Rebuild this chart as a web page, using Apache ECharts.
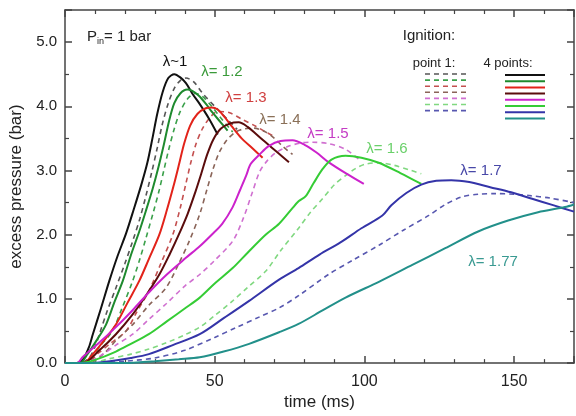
<!DOCTYPE html>
<html><head><meta charset="utf-8">
<script src="https://cdn.jsdelivr.net/npm/echarts@6/dist/echarts.min.js"></script>
<style>html,body{margin:0;padding:0;background:#fff}#c{width:576px;height:416px}</style>
</head><body><div id="c"></div>
<script>
// ---- data (time ms, excess pressure bar) ----
const xTicks = [0, 50, 100, 150];
const yTicks = [0.0, 1.0, 2.0, 3.0, 4.0, 5.0];
const lambdaLabels = ['λ~1', 'λ= 1.2', 'λ= 1.3', 'λ= 1.4', 'λ= 1.5', 'λ= 1.6', 'λ= 1.7', 'λ= 1.77'];

const l10_4pt = [[0,0],[4,0],[6,0.06],[8,0.25],[9.3,0.45],[12,0.85],[14.8,1.28],[17.5,1.66],[20.4,2.02],[23,2.4],[25.5,2.78],[27.5,3.12],[29.2,3.5],[30.8,3.88],[32.6,4.22],[34.5,4.44],[36.5,4.5],[38.5,4.45],[40.4,4.36],[42.5,4.2],[44.8,4.05],[48.2,3.8],[51,3.56]];
const l10_p1 = [[0,0],[5,0],[8,0.08],[10,0.25],[11.5,0.45],[14,0.8],[17,1.17],[20,1.55],[22.6,1.9],[25,2.25],[27,2.6],[29,2.98],[30.8,3.35],[32.5,3.72],[34.5,4.05],[36.5,4.28],[38.5,4.4],[40.4,4.44],[43,4.38],[46,4.2],[50.4,3.98],[54.8,3.77],[57.5,3.64]];
const l12_4pt = [[0,0],[5,0],[7.5,0.14],[10.5,0.35],[13.7,0.6],[16.5,0.95],[19.3,1.28],[22,1.68],[24.8,2.05],[27,2.37],[29.3,2.72],[31.2,3.05],[33,3.4],[34.8,3.78],[36.5,4.05],[38.5,4.2],[40.8,4.26],[42.5,4.24],[44.8,4.16],[47,4.04],[49.3,3.9],[52,3.75],[54.3,3.62]];
const l12_p1 = [[0,0],[6,0],[9,0.1],[12,0.28],[15.8,0.5],[19,0.85],[22.6,1.28],[25,1.62],[27,1.94],[29.5,2.35],[31.5,2.7],[33,3.0],[34.5,3.3],[36.5,3.65],[38.5,3.92],[41,4.12],[43.5,4.2],[46,4.15],[49,4.0],[52,3.82],[56,3.6]];
const l13_4pt = [[0,0],[6,0],[9.3,0.14],[13,0.35],[17,0.6],[21,0.95],[24.8,1.28],[28,1.62],[31.5,2.0],[34,2.38],[36.2,2.75],[38,3.08],[39.8,3.42],[41.8,3.7],[44.2,3.88],[47,3.97],[49,3.98],[51,3.95],[53,3.85],[56,3.67],[59,3.5],[62.5,3.35],[66,3.2]];
const l13_p1 = [[0,0],[7,0],[11,0.15],[15,0.3],[20.4,0.5],[24,0.8],[28,1.12],[32,1.55],[36,2.0],[38.5,2.42],[40.4,2.8],[42,3.12],[43.8,3.42],[46,3.66],[48.5,3.83],[51,3.92],[55,3.9],[59,3.8],[63.7,3.69],[67,3.6],[70.4,3.52]];
const l14_4pt = [[0,0],[6,0],[11.5,0.2],[17,0.45],[22.6,0.76],[27,1.05],[31.5,1.38],[35,1.7],[38,2.0],[41,2.33],[43.5,2.66],[45.5,2.95],[47.5,3.25],[49.5,3.48],[52,3.65],[55,3.73],[58,3.75],[61,3.68],[64,3.56],[67,3.44],[71,3.28],[74.8,3.13]];
const l14_p1 = [[0,0],[8,0],[13,0.15],[17,0.35],[22.6,0.6],[28,0.9],[33.7,1.17],[38,1.55],[41.5,1.9],[45,2.32],[47.5,2.72],[49.5,3.03],[51.5,3.28],[54,3.47],[57,3.6],[60,3.65],[63,3.66],[67,3.6],[70,3.5],[72.6,3.38],[76,3.25]];
const l15_4pt = [[0,0],[4,0],[6,0.1],[11,0.3],[17,0.56],[22.5,0.82],[28,1.1],[34,1.38],[40.4,1.64],[45,1.82],[49,2.0],[52.5,2.17],[56,2.43],[58.5,2.7],[60.5,2.92],[62,3.1],[65,3.25],[68,3.38],[72,3.46],[76,3.47],[80,3.4],[84,3.28],[88,3.13],[94,2.95],[99.8,2.79]];
const l15_p1 = [[0,0],[6,0],[12,0.12],[17,0.28],[22.6,0.45],[28,0.68],[33.7,0.92],[40,1.2],[45,1.38],[50,1.6],[56,1.9],[59.5,2.25],[62.5,2.65],[65,2.98],[67.5,3.15],[70.5,3.28],[74.8,3.38],[79,3.43],[82.6,3.44],[88,3.42],[93.7,3.33],[98,3.18]];
const l16_4pt = [[0,0],[5,0],[10,0.05],[17,0.18],[22,0.3],[28,0.45],[34,0.65],[40,0.85],[45,1.02],[50,1.24],[56,1.48],[61,1.72],[67,2.0],[71.5,2.17],[75.9,2.41],[78,2.52],[80.4,2.6],[83,2.8],[86,3.02],[89,3.17],[93.7,3.23],[99,3.2],[104.8,3.12],[112,2.96],[119,2.79]];
const l16_p1 = [[0,0],[8,0],[15,0.07],[22,0.14],[28,0.22],[34,0.32],[40,0.44],[45,0.56],[50,0.74],[56,0.97],[61,1.18],[67,1.43],[72,1.75],[78,2.1],[82,2.35],[86,2.56],[90,2.78],[93.7,2.92],[97,3.03],[100.4,3.1],[105,3.12],[110,3.08],[115,3.01],[119,2.95]];
const l17_4pt = [[0,0],[8,0],[15,0.03],[22,0.08],[28,0.14],[36,0.28],[45,0.45],[53,0.7],[61.5,0.97],[71.5,1.3],[78,1.48],[85,1.69],[92,1.88],[99,2.1],[106,2.3],[109,2.46],[114,2.65],[119,2.78],[124,2.84],[129,2.85],[135,2.82],[142,2.74],[149,2.66],[156,2.56],[163,2.46],[170,2.36]];
const l17_p1 = [[0,0],[10,0],[20,0.03],[30,0.08],[40,0.2],[50,0.4],[57,0.55],[65,0.72],[71.5,0.86],[78,1.05],[88,1.38],[96,1.6],[105,1.84],[113,2.07],[121.5,2.3],[127,2.47],[132.6,2.59],[138,2.63],[143.7,2.64],[150,2.63],[155,2.61],[162,2.57],[170,2.5]];
const l177_4pt = [[0,0],[20,0],[30,0.03],[38,0.06],[45,0.09],[53,0.18],[61.5,0.3],[71.5,0.48],[78,0.61],[86,0.82],[93.7,1.02],[105,1.27],[116,1.53],[127,1.79],[138,2.05],[148,2.22],[158,2.35],[167,2.43],[170,2.47]];

// ---- styles ----
const solidColors = ['#111111','#1e8a2e','#e2231a','#5a0c0c','#cc22cc','#35cc35','#3434a8','#22908a'];
const dashColors  = ['#555555','#3aa04a','#c45050','#8a6458','#d070d0','#80d880','#5858b0'];
const labelColors = ['#111111','#3a9a3a','#d04040','#8a7058','#c43cc4','#6ad06a','#4848a8','#3a9a92'];
const solidData = [l10_4pt,l12_4pt,l13_4pt,l14_4pt,l15_4pt,l16_4pt,l17_4pt,l177_4pt];
const dashData  = [l10_p1,l12_p1,l13_p1,l14_p1,l15_p1,l16_p1,l17_p1];

const series = [];
dashData.forEach((d,i)=>series.push({type:'line',data:d,showSymbol:false,smooth:0.3,z:2,
  lineStyle:{color:dashColors[i],width:1.6,type:[5,4]}}));
solidData.forEach((d,i)=>series.push({type:'line',data:d,showSymbol:false,smooth:0.3,z:3,
  lineStyle:{color:solidColors[i],width:2}}));

const font = 'Liberation Sans, Arial, sans-serif';
const labelPos = [[175,62],[222,72],[246,98],[280,120],[328,134],[387,149],[481,171],[493,262]];
const graphics = [];
lambdaLabels.forEach((t,i)=>graphics.push({type:'text',x:labelPos[i][0],y:labelPos[i][1],
  style:{text:t,fill:labelColors[i],font:'15px '+font,textAlign:'center',textVerticalAlign:'middle'}}));
graphics.push({type:'text',x:87,y:37,style:{text:'{a|P}{s|in}{a|= 1 bar}',
  rich:{a:{fontSize:15,fontFamily:font,fill:'#222'},s:{fontSize:9,fontFamily:font,fill:'#222',padding:[10,0,0,0]}},
  textVerticalAlign:'middle'}});
graphics.push({type:'text',x:429,y:36,style:{text:'Ignition:',fill:'#222',font:'15px '+font,textAlign:'center',textVerticalAlign:'middle'}});
graphics.push({type:'text',x:434,y:63,style:{text:'point 1:',fill:'#222',font:'13px '+font,textAlign:'center',textVerticalAlign:'middle'}});
graphics.push({type:'text',x:508,y:63,style:{text:'4 points:',fill:'#222',font:'13px '+font,textAlign:'center',textVerticalAlign:'middle'}});
dashColors.forEach((c,i)=>graphics.push({type:'line',shape:{x1:425,y1:74+i*6.1,x2:466,y2:74+i*6.1},
  style:{stroke:c,lineWidth:1.6,lineDash:[5,4]}}));
solidColors.forEach((c,i)=>graphics.push({type:'line',shape:{x1:505,y1:75+i*6.2,x2:545,y2:75+i*6.2},
  style:{stroke:c,lineWidth:2}}));

const axisLine = {show:true,onZero:false,lineStyle:{color:'#444',width:1.5}};
const tick = {inside:true,length:7,lineStyle:{color:'#444',width:1.5}};
const chart = echarts.init(document.getElementById('c'),null,{renderer:'canvas'});
chart.setOption({
  animation:false,
  grid:{left:65,right:2,top:10,bottom:50},
  xAxis:[{type:'value',min:0,max:170,interval:50,position:'bottom',
      name:'time (ms)',nameLocation:'middle',nameGap:30,
      nameTextStyle:{fontSize:17,fontFamily:font,color:'#222'},
      axisLine:axisLine,axisTick:tick,
      minorTick:{show:true,splitNumber:5,length:4,lineStyle:{color:'#444',width:1.2}},
      splitLine:{show:false},
      axisLabel:{fontSize:16,fontFamily:font,color:'#222',margin:10,showMaxLabel:false,
        formatter:v=>xTicks.indexOf(v)>=0?String(v):''}},
    {type:'value',min:0,max:170,interval:50,position:'top',
      axisLine:axisLine,axisTick:tick,
      minorTick:{show:true,splitNumber:5,length:4,lineStyle:{color:'#444',width:1.2}},
      splitLine:{show:false},axisLabel:{show:false}}],
  yAxis:[{type:'value',min:0,max:5.5,interval:1,position:'left',
      name:'excess pressure (bar)',nameLocation:'middle',nameGap:38,
      nameTextStyle:{fontSize:17,fontFamily:font,color:'#222'},
      axisLine:axisLine,axisTick:tick,
      minorTick:{show:true,splitNumber:2,length:4,lineStyle:{color:'#444',width:1.2}},
      splitLine:{show:false},
      axisLabel:{fontSize:15,fontFamily:font,color:'#222',margin:8,showMaxLabel:false,
        formatter:v=>yTicks.indexOf(v)>=0?v.toFixed(1):''}},
    {type:'value',min:0,max:5.5,interval:1,position:'right',
      axisLine:axisLine,axisTick:tick,
      minorTick:{show:true,splitNumber:2,length:4,lineStyle:{color:'#444',width:1.2}},
      splitLine:{show:false},axisLabel:{show:false}}],
  series:series,
  graphic:graphics
});
</script></body></html>
